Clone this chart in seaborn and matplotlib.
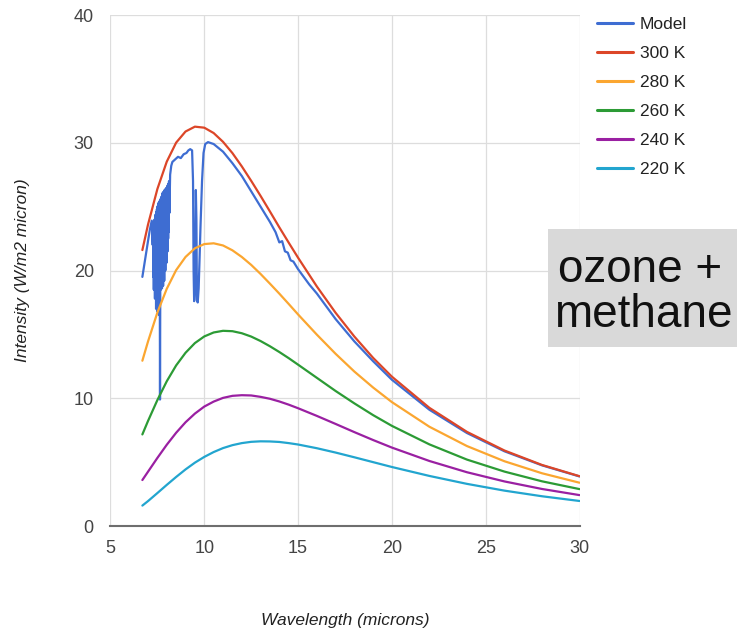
import pandas as pd
import matplotlib.pyplot as plt
import seaborn as sns
from matplotlib.patches import Rectangle


# Blackbody curves (microns, W/m2 micron)
wavelength = [6.7, 7, 7.5, 8, 8.5, 9, 9.5, 10, 10.5, 11, 11.5, 12, 12.5, 13,
              13.5, 14, 14.5, 15, 16, 17, 18, 19, 20, 22, 24, 26, 28, 30]
bb_300 = [21.6, 23.59, 26.38, 28.52, 30.01, 30.88, 31.26, 31.18, 30.76, 30.07,
          29.19, 28.15, 27.02, 25.84, 24.62, 23.38, 22.18, 21.00, 18.75, 16.69,
          14.83, 13.16, 11.69, 9.25, 7.37, 5.91, 4.78, 3.90]
bb_280 = [12.94, 14.44, 16.71, 18.57, 20.03, 21.06, 21.74, 22.07, 22.13, 21.96,
          21.58, 21.06, 20.44, 19.73, 18.97, 18.19, 17.38, 16.56, 14.98, 13.48,
          12.09, 10.84, 9.70, 7.77, 6.26, 5.07, 4.13, 3.39]
bb_260 = [7.17, 8.22, 9.86, 11.33, 12.57, 13.56, 14.32, 14.84, 15.15, 15.28,
          15.25, 15.09, 14.83, 14.48, 14.07, 13.62, 13.14, 12.63, 11.60, 10.57,
          9.60, 8.68, 7.84, 6.39, 5.20, 4.26, 3.50, 2.89]
bb_240 = [3.60, 4.25, 5.33, 6.36, 7.30, 8.12, 8.80, 9.35, 9.74, 10.03, 10.19,
          10.24, 10.22, 10.11, 9.96, 9.75, 9.50, 9.22, 8.62, 7.99, 7.35, 6.73,
          6.14, 5.09, 4.21, 3.49, 2.90, 2.42]
bb_220 = [1.60, 1.95, 2.58, 3.22, 3.84, 4.43, 4.96, 5.41, 5.79, 6.10, 6.33,
          6.49, 6.59, 6.63, 6.62, 6.58, 6.49, 6.38, 6.09, 5.75, 5.38, 5.00,
          4.62, 3.92, 3.30, 2.77, 2.33, 1.96]

# Model spectrum with the methane and ozone absorption bands
model_wl = [6.7, 6.85, 7.0, 7.1, 7.2,
            7.25, 7.265, 7.28, 7.295, 7.31, 7.325, 7.34, 7.355, 7.37, 7.385,
            7.40, 7.415, 7.43, 7.445, 7.46, 7.475, 7.49, 7.505, 7.52, 7.535,
            7.55, 7.565, 7.58, 7.595, 7.61, 7.625, 7.64, 7.655, 7.67, 7.685,
            7.70, 7.715, 7.73, 7.745, 7.76, 7.775, 7.79, 7.805, 7.82, 7.835,
            7.85, 7.865, 7.88, 7.895, 7.91, 7.925, 7.94, 7.955, 7.97, 7.985,
            8.00, 8.015, 8.03, 8.045, 8.06, 8.075, 8.09, 8.105, 8.12, 8.14,
            8.18, 8.24, 8.3, 8.45, 8.6, 8.75, 8.9, 9.05, 9.15, 9.25,
            9.35, 9.4, 9.43, 9.46, 9.5, 9.55, 9.58, 9.61, 9.65, 9.7, 9.75, 9.8,
            9.88, 9.96, 10.05, 10.2, 10.5, 11, 11.5, 12, 12.5, 13, 13.5, 13.8,
            14.0, 14.15, 14.3, 14.45, 14.6, 14.75, 15.0, 15.3, 15.6, 16, 16.5,
            17, 18, 19, 20, 22, 24, 26, 28, 30]
model_int = [19.5, 20.9, 22.3, 23.2, 23.9,
             22.0, 23.8, 19.5, 23.3, 18.5, 23.9, 20.5, 24.0, 17.8, 24.3,
             19.0, 24.4, 17.0, 24.6, 18.5, 24.8, 16.8, 25.0, 18.0, 25.1,
             17.2, 25.3, 18.2, 25.4, 16.5, 22.0, 9.9, 19.0, 25.6, 18.5,
             25.7, 19.3, 25.8, 18.6, 26.0, 19.2, 26.1, 18.8, 26.1, 19.6,
             26.2, 19.2, 26.3, 20.2, 26.3, 20.0, 26.4, 21.0, 26.4, 20.6,
             26.5, 21.8, 26.6, 21.5, 26.7, 22.5, 26.8, 23.0, 27.0, 24.5,
             27.5, 28.2, 28.5, 28.7, 28.9, 28.8, 29.1, 29.2, 29.4, 29.5,
             29.4, 27.0, 20.0, 17.6, 18.5, 26.3, 24.0, 17.7, 17.5, 18.6, 21.0,
             23.5, 27.0, 29.2, 29.9, 30.05, 29.9, 29.3, 28.4, 27.4, 26.2, 25.0,
             23.8, 23.0, 22.2, 22.3, 21.5, 21.4, 20.8, 20.7, 20.1, 19.5, 18.9,
             18.2, 17.2, 16.2, 14.45, 12.9, 11.45, 9.1, 7.28, 5.85, 4.75, 3.88]

series_order = ['Model', '300 K', '280 K', '260 K', '240 K', '220 K']
palette = {'Model': '#3e6dd2', '300 K': '#dc4628', '280 K': '#fba630',
           '260 K': '#2c9b35', '240 K': '#9a20a2', '220 K': '#22a5cf'}

frames = [pd.DataFrame({'Wavelength': model_wl, 'Intensity': model_int,
                        'Series': 'Model'})]
for name, vals in zip(series_order[1:], [bb_300, bb_280, bb_260, bb_240, bb_220]):
    frames.append(pd.DataFrame({'Wavelength': wavelength, 'Intensity': vals,
                                'Series': name}))
df = pd.concat(frames, ignore_index=True)

sns.set_theme(style='white')
plt.rcParams['font.family'] = ['Liberation Sans', 'DejaVu Sans']

fig = plt.figure(figsize=(7.37, 6.33), dpi=100)
ax = fig.add_axes([0.1499, 0.169, 0.6364, 0.8073])

sns.lineplot(data=df, x='Wavelength', y='Intensity', hue='Series',
             hue_order=series_order, palette=palette, estimator=None,
             sort=False, linewidth=1.6, ax=ax)

ax.set_xlim(5, 30)
ax.set_ylim(0, 40)
ax.set_xticks([5, 10, 15, 20, 25, 30])
ax.set_yticks([0, 10, 20, 30, 40])
ax.grid(True, color='#dddddd', linewidth=0.9)
ax.set_axisbelow(True)
for side in ['top', 'right', 'left']:
    ax.spines[side].set_visible(False)
ax.spines['bottom'].set_color('#6e6e6e')
ax.spines['bottom'].set_linewidth(1.5)
ax.tick_params(axis='x', length=0, pad=10, labelsize=13, labelcolor='#444444')
ax.tick_params(axis='y', length=0, pad=12, labelsize=13, labelcolor='#444444')
ax.set_xlabel('')
ax.set_ylabel('')

fig.text(0.468, 0.019, 'Wavelength (microns)', ha='center', va='center',
         fontsize=12.5, style='italic', color='#222222')
fig.text(0.030, 0.5727, 'Intensity (W/m2 micron)', ha='center', va='center',
         rotation=90, fontsize=12.5, style='italic', color='#222222')

handles, labels = ax.get_legend_handles_labels()
for h in handles:
    h.set_linewidth(2.2)
ax.legend(handles, labels, loc='upper left', bbox_to_anchor=(0.81, 0.974),
          bbox_transform=fig.transFigure, frameon=False, fontsize=12.5,
          handlelength=2.05, handletextpad=0.4, labelspacing=0.8,
          borderpad=0, borderaxespad=0, labelcolor='#222222')

# annotation box on the right
fig.patches.append(Rectangle((0.744, 0.4523), 0.26, 0.1859,
                             transform=fig.transFigure, facecolor='#d9d9d9',
                             edgecolor='none', zorder=2))
fig.text(0.7565, 0.555, 'ozone +', fontsize=33, color='#111111',
         va='baseline', ha='left', zorder=3)
fig.text(0.7515, 0.4839, 'methane', fontsize=33, color='#111111',
         va='baseline', ha='left', zorder=3)

fig.savefig('out.png', dpi=100)
